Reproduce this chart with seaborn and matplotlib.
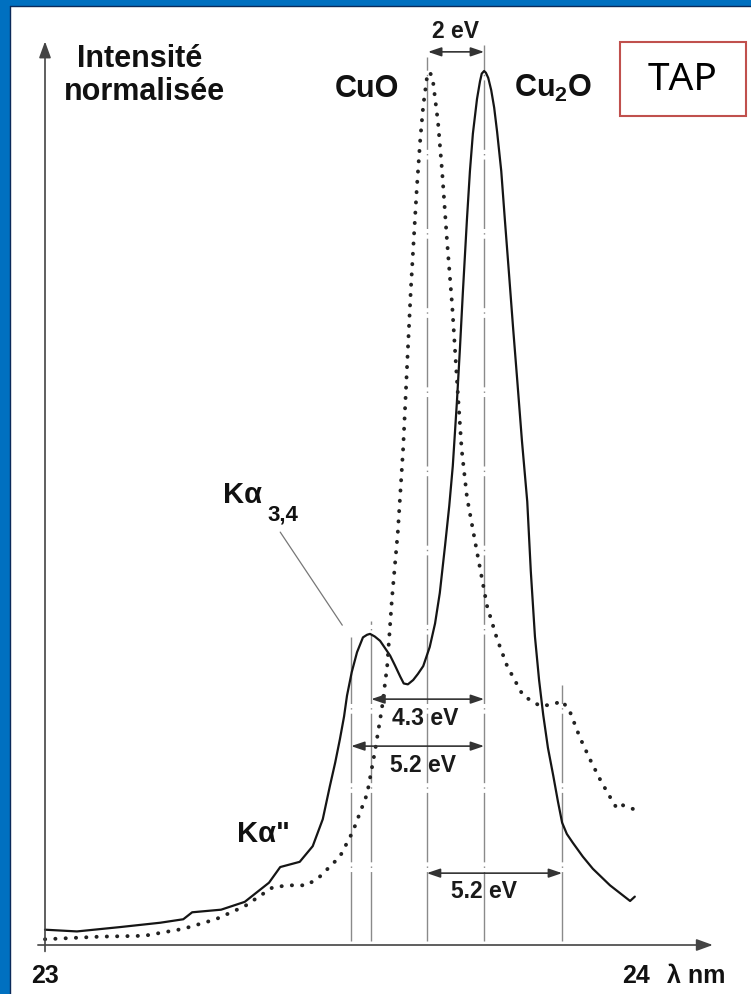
import matplotlib
matplotlib.use("Agg")
import matplotlib.pyplot as plt
from matplotlib.patches import Rectangle
import seaborn as sns
import pandas as pd

# ---------------- data (wavelength in nm, normalised intensity) ----------------
cu2o_nm = [23.000, 23.054, 23.127, 23.195, 23.234, 23.249, 23.298, 23.338, 23.379, 23.398,
           23.431, 23.453, 23.470, 23.482, 23.491, 23.499, 23.506, 23.511, 23.519, 23.528,
           23.538, 23.545, 23.550, 23.558, 23.567, 23.575, 23.584, 23.592, 23.601, 23.607,
           23.614, 23.623, 23.631, 23.640, 23.651, 23.660, 23.668, 23.677, 23.684, 23.690,
           23.697, 23.702, 23.707, 23.714, 23.719, 23.724, 23.731, 23.736, 23.739, 23.743,
           23.746, 23.750, 23.755, 23.760, 23.765, 23.772, 23.778, 23.785, 23.792, 23.799,
           23.807, 23.816, 23.822, 23.829, 23.836, 23.843, 23.851, 23.860, 23.868, 23.875,
           23.883, 23.893, 23.910, 23.927, 23.956, 23.973, 23.990, 23.998]
cu2o_I = [0.013, 0.011, 0.016, 0.021, 0.025, 0.033, 0.036, 0.045, 0.067, 0.085,
          0.091, 0.109, 0.140, 0.178, 0.205, 0.232, 0.258, 0.282, 0.309, 0.332,
          0.349, 0.352, 0.353, 0.350, 0.345, 0.337, 0.328, 0.317, 0.304, 0.296,
          0.295, 0.300, 0.307, 0.316, 0.338, 0.365, 0.400, 0.455, 0.500, 0.546,
          0.620, 0.680, 0.745, 0.830, 0.885, 0.928, 0.968, 0.988, 0.997, 1.000,
          0.998, 0.992, 0.978, 0.958, 0.930, 0.885, 0.830, 0.768, 0.705, 0.645,
          0.575, 0.505, 0.425, 0.350, 0.300, 0.260, 0.222, 0.190, 0.160, 0.136,
          0.123, 0.113, 0.097, 0.083, 0.064, 0.055, 0.046, 0.051]

cuo_nm = [23.000, 23.093, 23.168, 23.234, 23.289, 23.338, 23.364, 23.386, 23.415, 23.443,
          23.465, 23.499, 23.521, 23.545, 23.558, 23.570, 23.579, 23.587, 23.597, 23.606,
          23.614, 23.619, 23.624, 23.629, 23.635, 23.640, 23.646, 23.651, 23.656, 23.665,
          23.672, 23.680, 23.689, 23.697, 23.705, 23.714, 23.731, 23.748, 23.765, 23.782,
          23.809, 23.838, 23.860, 23.875, 23.888, 23.905, 23.922, 23.939, 23.953, 23.968,
          23.978, 23.998]
cuo_I = [0.002, 0.005, 0.006, 0.014, 0.025, 0.040, 0.052, 0.062, 0.064, 0.064,
         0.074, 0.097, 0.126, 0.169, 0.217, 0.267, 0.316, 0.393, 0.470, 0.566,
         0.680, 0.749, 0.807, 0.864, 0.922, 0.960, 0.991, 0.999, 0.991, 0.941,
         0.884, 0.807, 0.730, 0.645, 0.565, 0.510, 0.447, 0.385, 0.347, 0.316,
         0.282, 0.270, 0.272, 0.276, 0.264, 0.234, 0.209, 0.186, 0.169, 0.152,
         0.156, 0.151]

# reference positions (nm) and heights of the dash-dot guide lines
guide_nm = [23.518, 23.552, 23.646, 23.743, 23.875]
guide_top = [0.350, 0.368, 1.016, 1.030, 0.294]

# energy-gap arrows: (start nm, end nm, level, label)
gap_start = [23.648, 23.552, 23.518, 23.646]
gap_end = [23.743, 23.743, 23.743, 23.875]
gap_level = [1.022, 0.278, 0.224, 0.078]
gap_label = ["2 eV", "4.3 eV", "5.2 eV", "5.2 eV"]

x_ticks = [23, 24]

# ---------------- figure ----------------
sns.set_style("white")
plt.rcParams["font.family"] = ["Liberation Sans", "DejaVu Sans"]
plt.rcParams["mathtext.fontset"] = "custom"
plt.rcParams["mathtext.rm"] = "Liberation Sans:bold"
plt.rcParams["mathtext.it"] = "Liberation Sans:bold"
plt.rcParams["mathtext.bf"] = "Liberation Sans:bold"

W, H = 751, 995
fig = plt.figure(figsize=(W / 100, H / 100), dpi=100, facecolor="white")
ax = fig.add_axes([45 / W, 53 / H, 591 / W, 870 / H])
ax.set_xlim(23, 24)
ax.set_ylim(0, 1)
ax.axis("off")

# blue frame (top and left)
blue = "#0070C0"
fig.patches.append(Rectangle((0, 1 - 7 / H), 1, 7 / H, transform=fig.transFigure,
                             facecolor=blue, edgecolor="none", zorder=0))
fig.patches.append(Rectangle((0, 0), 10 / W, 1, transform=fig.transFigure,
                             facecolor=blue, edgecolor="none", zorder=0))
fig.lines.append(plt.Line2D([10 / W, 10 / W], [0, 1 - 7 / H], transform=fig.transFigure,
                            color="#0b2a5a", lw=1.0))
fig.lines.append(plt.Line2D([10 / W, 1], [1 - 7 / H, 1 - 7 / H], transform=fig.transFigure,
                            color="#0b2a5a", lw=1.0))

# guide lines
ax.vlines(guide_nm, 0, guide_top, colors="#8a8a8a", linewidth=1.0,
          linestyles=[(0, (50, 3, 1, 3))], clip_on=False, zorder=1)

# curves
df_cu2o = pd.DataFrame({"nm": cu2o_nm, "I": cu2o_I})
df_cuo = pd.DataFrame({"nm": cuo_nm, "I": cuo_I})
sns.lineplot(data=df_cu2o, x="nm", y="I", ax=ax, color="#151515", linewidth=1.6,
             sort=False, estimator=None, zorder=3)
l2 = sns.lineplot(data=df_cuo, x="nm", y="I", ax=ax, color="#222222", linewidth=2.8,
                  sort=False, estimator=None, zorder=3)
l2.lines[-1].set_linestyle((0, (0.05, 2.6)))
l2.lines[-1].set_dash_capstyle("round")
for ln in ax.lines:
    ln.set_clip_on(False)
    ln.set_solid_joinstyle("round")
ax.set_xlabel("")
ax.set_ylabel("")

# axes arrows
ax.annotate("", xy=(24.13, -0.0046), xytext=(22.988, -0.0046), annotation_clip=False,
            arrowprops=dict(arrowstyle="-|>,head_length=0.55,head_width=0.2",
                            mutation_scale=18, color="#444444", lw=1.2,
                            shrinkA=0, shrinkB=0))
ax.annotate("", xy=(23.0, 1.034), xytext=(23.0, -0.012), annotation_clip=False,
            arrowprops=dict(arrowstyle="-|>,head_length=0.55,head_width=0.2",
                            mutation_scale=18, color="#444444", lw=1.2,
                            shrinkA=0, shrinkB=0))

# gap arrows + labels
label_pos = [(23.695, 1.039), (23.643, 0.249), (23.640, 0.195), (23.743, 0.051)]
for s, e, lv, lab, (tx, ty) in zip(gap_start, gap_end, gap_level, gap_label, label_pos):
    ax.annotate("", xy=(e, lv), xytext=(s, lv), annotation_clip=False,
                arrowprops=dict(arrowstyle="<|-|>,head_length=0.5,head_width=0.17",
                                mutation_scale=16, color="#333333", lw=1.2,
                                shrinkA=0, shrinkB=0))
    ax.text(tx, ty, lab, ha="center", va="baseline", fontsize=16.5,
            fontweight="bold", color="#1a1a1a", clip_on=False)

# leader line for K alpha 3,4
ax.plot([23.398, 23.503], [0.470, 0.363], color="#777777", lw=0.9, clip_on=False)

# text labels
bold = dict(fontweight="bold", color="#111111", clip_on=False)
ax.text(23.160, 1.006, "Intensité", ha="center", va="baseline", fontsize=22, **bold)
ax.text(23.169, 0.968, "normalisée", ha="center", va="baseline", fontsize=22, **bold)
ax.text(23.545, 0.971, "CuO", ha="center", va="baseline", fontsize=22, **bold)
ax.text(23.860, 0.971, r"$\mathregular{Cu_2O}$", ha="center", va="baseline",
        fontsize=22, **bold)
ax.text(23.301, 0.505, "Kα", ha="left", va="baseline", fontsize=21, **bold)
ax.text(23.376, 0.485, "3,4", ha="left", va="baseline", fontsize=16, **bold)
ax.text(23.325, 0.115, "Kα\"", ha="left", va="baseline", fontsize=21, **bold)

# tick labels
for t in x_ticks:
    ax.text(t, -0.047, str(t), ha="center", va="baseline", fontsize=18, **bold)
ax.text(24.052, -0.047, "λ nm", ha="left", va="baseline", fontsize=18, **bold)

# TAP box
fig.patches.append(Rectangle((620 / W, (H - 117) / H), 126 / W, 74 / H,
                             transform=fig.transFigure, facecolor="white",
                             edgecolor="#C0504D", lw=1.5, zorder=5))
fig.text(683 / W, (H - 80) / H, "TAP", ha="center", va="center", fontsize=28,
         family=["Noto Sans", "DejaVu Sans"], color="black", zorder=6)

fig.savefig("out.png", dpi=100, facecolor="white")
